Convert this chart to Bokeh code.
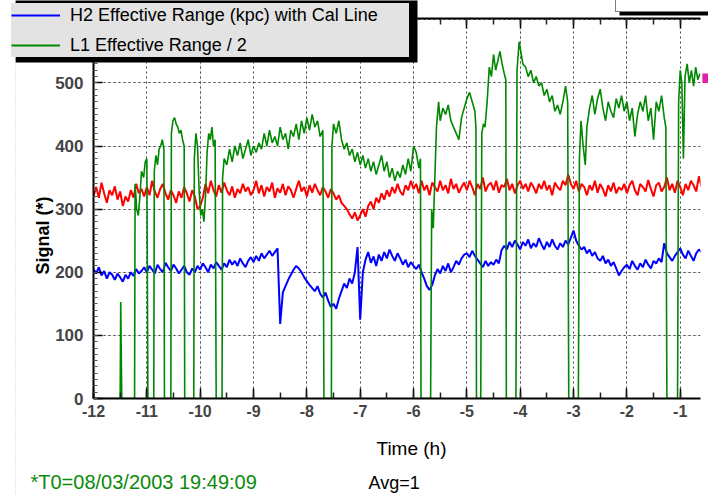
import numpy as np
from bokeh.plotting import figure
from bokeh.models import (Range1d, LinearAxis, FixedTicker, Legend, LegendItem,
                          Label, Grid, Span)
from bokeh.embed import file_html
from bokeh.resources import INLINE

# ---------------- data ----------------
T_START = -12.0
T_STEP = 0.05

RED_V = [
    320, 335, 318, 342, 325, 310, 330, 322, 336, 315, 328, 305, 320, 312, 330, 318, 340, 325, 332, 320,
    335, 322, 345, 328, 318, 332, 340, 325, 315, 330, 322, 310, 328, 318, 335, 325, 312, 330, 320, 300,
    305, 318, 340, 325, 345, 330, 320, 338, 326, 342, 330, 322, 336, 318, 332, 325, 340, 328, 335, 322,
    330, 345, 325, 338, 320, 335, 328, 342, 318, 333, 326, 340, 322, 336, 330, 318, 332, 345, 328, 335,
    320, 338, 326, 340, 330, 322, 335, 328, 318, 332, 325, 315, 322, 310, 305, 300, 292, 285, 295, 282,
    290, 300, 288, 305, 312, 300, 318, 310, 325, 315, 330, 320, 335, 325, 340, 328, 322, 338, 330, 345,
    332, 340, 325, 345, 330, 338, 322, 342, 335, 328, 345, 330, 338, 325, 348, 332, 340, 326, 335, 342,
    330, 345, 335, 322, 340, 332, 350, 328, 338, 342, 330, 345, 326, 338, 335, 348, 330, 340, 325, 338,
    345, 332, 340, 328, 342, 335, 325, 340, 332, 345, 330, 338, 322, 342, 335, 330, 345, 338, 355, 340,
    332, 345, 328, 340, 335, 322, 338, 330, 345, 326, 340, 332, 320, 338, 328, 342, 325, 335, 330, 340,
    325, 338, 345, 330, 322, 340, 335, 328, 346, 332, 320, 338, 342, 328, 335, 350, 330, 340, 326, 345,
    335, 322, 340, 330, 345, 338, 328, 352, 335,
]

BLUE_V = [
    205, 198, 208, 195, 202, 190, 200, 196, 188, 198, 192, 185, 196, 190, 200, 194, 205, 198, 202, 208,
    200, 210, 204, 198, 212, 205, 200, 215, 208, 202, 212, 206, 198, 204, 210, 200, 196, 206, 200, 210,
    204, 214, 208, 200, 212, 206, 216, 210, 204, 214, 208, 220, 212, 218, 210, 222, 214, 208, 218, 224,
    216, 226, 218, 230, 222, 228, 234, 226, 232, 238, 118, 168, 178, 188, 196, 204, 210, 206, 200, 192,
    186, 180, 175, 170, 178, 166, 160, 168, 155, 145, 150, 142, 158, 170, 182, 175, 190, 182, 200, 240,
    125, 200, 220, 232, 215, 225, 210, 228, 218, 232, 222, 236, 226, 218, 230, 222, 212, 220, 208, 216,
    210, 205, 212, 200, 190, 178, 172, 180, 195, 205, 198, 210, 202, 214, 200, 208, 218, 212, 222, 228,
    230, 224, 234, 226, 220, 214, 208, 218, 210, 216, 212, 220, 214, 235, 242, 236, 248, 240, 250, 244,
    236, 248, 242, 252, 238, 246, 240, 254, 244, 236, 248, 240, 252, 242, 236, 246, 240, 250, 244, 255,
    266, 250, 242, 236, 240, 230, 236, 226, 232, 222, 218, 226, 214, 220, 210, 216, 206, 195, 202, 208,
    212, 205, 218, 210, 204, 214, 208, 220, 212, 206, 218, 214, 222, 216, 246, 230, 224, 218, 226, 232,
    238, 228, 222, 234, 226, 218, 230, 236, 232,
]

GREEN_T = [
    -12.00, -11.50, -11.49, -11.47, -11.23,
    -11.22, -11.19, -11.16, -11.13, -11.10, -11.06, -11.03, -11.00, -10.98,
    -10.87, -10.86, -10.83, -10.80, -10.77, -10.74, -10.71, -10.68, -10.67,
    -10.55, -10.54, -10.51, -10.48, -10.45, -10.42, -10.39, -10.36, -10.33, -10.30, -10.29,
    -10.12, -10.11, -10.08, -10.05, -10.02, -9.99, -9.96, -9.93, -9.90, -9.87, -9.84, -9.81, -9.78, -9.75, -9.72, -9.70,
    -9.59, -9.58, -9.55, -9.50, -9.45, -9.40, -9.35, -9.30, -9.25, -9.20, -9.15, -9.10, -9.05, -9.00,
    -8.95, -8.90, -8.85, -8.80, -8.75, -8.70, -8.65, -8.60, -8.55, -8.50, -8.45, -8.40, -8.35, -8.30,
    -8.25, -8.20, -8.15, -8.10, -8.05, -8.00, -7.95, -7.90, -7.85, -7.80, -7.75, -7.70, -7.68,
    -7.54, -7.53, -7.50, -7.45, -7.40, -7.35, -7.30, -7.25, -7.20, -7.15, -7.10, -7.05, -7.00,
    -6.95, -6.90, -6.85, -6.80, -6.75, -6.70, -6.65, -6.60, -6.55, -6.50, -6.45, -6.40, -6.35, -6.30,
    -6.25, -6.20, -6.15, -6.10, -6.05, -6.00, -5.95, -5.90, -5.87, -5.86,
    -5.68, -5.66, -5.63, -5.60, -5.57, -5.53, -5.50, -5.45, -5.40, -5.35, -5.30, -5.25, -5.20, -5.15,
    -5.10, -5.05, -5.00, -4.95, -4.90, -4.85, -4.83, -4.82,
    -4.74, -4.72, -4.69, -4.66, -4.62, -4.58, -4.54, -4.50, -4.46, -4.42, -4.38, -4.34, -4.30, -4.27, -4.26,
    -4.08, -4.06, -4.02, -3.98, -3.95, -3.90, -3.85, -3.80, -3.75, -3.70, -3.65, -3.60, -3.55, -3.50,
    -3.45, -3.40, -3.35, -3.30, -3.25, -3.20, -3.15, -3.11, -3.09,
    -2.91, -2.89, -2.86, -2.82, -2.78, -2.75, -2.70, -2.65, -2.60, -2.55, -2.50, -2.45, -2.40, -2.35,
    -2.30, -2.25, -2.20, -2.15, -2.10, -2.05, -2.00, -1.95, -1.90, -1.85, -1.80, -1.75, -1.70, -1.65,
    -1.60, -1.55, -1.50, -1.45, -1.40, -1.35, -1.30, -1.27, -1.25,
    -1.05, -1.03, -1.00, -0.97, -0.94, -0.91, -0.87, -0.83, -0.79, -0.75, -0.71, -0.67, -0.63,
]

GREEN_V = [
    0, 0, 153, 0, 0,
    340, 300, 290, 320, 360, 350, 375, 380, 0,
    0, 360, 385, 370, 395, 400, 410, 395, 0,
    0, 420, 440, 445, 435, 430, 420, 425, 410, 400, 0,
    0, 380, 420, 400, 330, 290, 300, 280, 320, 390, 420, 410, 430, 400, 410, 0,
    0, 350, 380, 370, 395, 375, 400, 385, 405, 380, 395, 410, 385, 400,
    390, 405, 395, 420, 400, 425, 405, 415, 400, 430, 410, 420, 395, 425,
    415, 435, 410, 440, 420, 445, 425, 450, 430, 440, 415, 425, 0,
    0, 400, 435, 420, 440, 410, 395, 405, 385, 395, 375, 390, 370,
    385, 365, 380, 360, 375, 355, 370, 385, 360, 375, 350, 365, 345, 360,
    350, 370, 355, 380, 360, 400, 390, 365, 380, 0,
    0, 300, 270, 350, 430, 470, 440, 460, 450, 465, 440, 430, 420, 410,
    445, 460, 475, 485, 470, 455, 430, 0,
    0, 420, 435, 430, 470, 525, 510, 545, 520, 535, 550, 530, 515, 505, 0,
    0, 520, 565, 545, 530, 525, 510, 520, 500, 510, 495, 500, 480, 490,
    470, 480, 455, 465, 450, 470, 495, 470, 0,
    0, 380, 440, 400, 370, 430, 460, 480, 450, 475, 490, 460, 440, 470,
    455, 445, 475, 460, 480, 455, 470, 440, 460, 415, 450, 470, 455, 480,
    440, 460, 410, 470, 455, 480, 445, 430, 0,
    0, 470, 520, 500, 380, 510, 530, 500, 520, 495, 525, 505, 515,
]

X_TICKS = list(range(-12, 0))
X_MINOR = [-12 + 0.5 * k for k in range(25)]
Y_TICKS = [0, 100, 200, 300, 400, 500, 600]
Y_MINOR = list(range(0, 610, 10))
LEGEND_LABELS = ["H2 Effective Range (kpc) with Cal Line", "L1 Effective Range / 2"]
X_TITLE = "Time (h)"
Y_TITLE = "Signal (*)"
FOOT_LEFT = "*T0=08/03/2003 19:49:09"
FOOT_RIGHT = "Avg=1"

RED_C, BLUE_C, GREEN_C = "#ff0000", "#0000ff", "#008800"

red_t = T_START + T_STEP * np.arange(len(RED_V))
blue_t = T_START + T_STEP * np.arange(len(BLUE_V))

FONT = "Liberation Sans"
W, H = 708, 494

# ---------------- main plot ----------------
p = figure(width=W, height=H, x_range=Range1d(-12, -0.62), y_range=Range1d(0, 602),
           output_backend="svg", toolbar_location=None,
           x_axis_location=None, y_axis_location=None,
           min_border_left=93, min_border_right=8, min_border_top=18, min_border_bottom=96)
p.outline_line_color = None
p.background_fill_color = "white"
p.border_fill_color = "white"

xt = FixedTicker(ticks=X_TICKS, minor_ticks=X_MINOR)
yt = FixedTicker(ticks=Y_TICKS, minor_ticks=Y_MINOR)

p.add_layout(Grid(dimension=0, ticker=xt, grid_line_color="#444444", grid_line_dash="2 3",
                  grid_line_width=1))
p.add_layout(Grid(dimension=1, ticker=yt, grid_line_color="#444444", grid_line_dash="2 3",
                  grid_line_width=1))

p.line(red_t, RED_V, line_color=RED_C, line_width=2)
p.line(blue_t, BLUE_V, line_color=BLUE_C, line_width=2)
p.line(GREEN_T, GREEN_V, line_color=GREEN_C, line_width=1.6)

x_tick_style = dict(axis_line_width=2, axis_line_color="black",
                    major_tick_line_color="black", minor_tick_line_color="#222222",
                    major_tick_line_width=1.5, minor_tick_line_width=1.5,
                    major_tick_in=10, major_tick_out=0, minor_tick_in=6, minor_tick_out=0)

xb = LinearAxis(ticker=xt, major_label_overrides={t: str(t) for t in X_TICKS},
                major_label_text_font=FONT, major_label_text_font_style="bold",
                major_label_text_font_size="16px", major_label_standoff=6, **x_tick_style)
p.add_layout(xb, "below")

yl = LinearAxis(ticker=yt, axis_line_width=2, axis_line_color="black",
                major_tick_line_color="black", minor_tick_line_color="#555555",
                major_tick_line_width=1.5, minor_tick_line_width=1,
                major_tick_in=9, major_tick_out=0, minor_tick_in=4, minor_tick_out=0,
                major_label_text_font=FONT, major_label_text_font_style="bold",
                major_label_text_font_size="17px", major_label_standoff=10)
p.add_layout(yl, "left")

xtop = LinearAxis(ticker=xt, major_label_overrides={t: "" for t in X_TICKS},
                  major_label_standoff=0, **x_tick_style)
p.add_layout(xtop, "above")

# ---------------- overlay (titles, legend boxes and footer, over the whole page) ----------------
q = figure(width=W, height=H, x_range=Range1d(0, W), y_range=Range1d(0, H),
           output_backend="svg", toolbar_location=None,
           x_axis_location=None, y_axis_location=None, min_border=0,
           styles={"position": "absolute", "top": "0px", "left": "0px"})
q.outline_line_color = None
q.background_fill_alpha = 0
q.border_fill_alpha = 0
q.xgrid.visible = False
q.ygrid.visible = False

q.add_layout(Span(location=15, dimension="height", line_color="#cfcfcf", line_dash="1 2",
                  line_width=1))

# drop shadows of the two boxes (screen-pixel frame of the overlay)
q.quad(left=[15, 619], right=[417, 730], bottom=[H - 62, H - 15], top=[H + 6, H + 6],
       fill_color="black", line_color=None)

lb = q.line([-50], [-50], line_color=BLUE_C, line_width=2)
lg = q.line([-50], [-50], line_color=GREEN_C, line_width=2)
ld = q.line([-50], [-50], line_alpha=0)

q.add_layout(Legend(items=[LegendItem(label=LEGEND_LABELS[0], renderers=[lb]),
                           LegendItem(label=LEGEND_LABELS[1], renderers=[lg])],
                    location=(11, H - 57), background_fill_color="#e3e3e3",
                    background_fill_alpha=1, border_line_color=None, padding=2, spacing=6,
                    margin=0, glyph_width=49, glyph_height=24, label_height=24,
                    label_standoff=10, label_width=339, label_text_font=FONT,
                    label_text_font_size="18px", label_text_color="black"))

q.add_layout(Legend(items=[LegendItem(label=" ", renderers=[ld])],
                    location=(615, H - 12), background_fill_color="white",
                    background_fill_alpha=1, border_line_color="black", border_line_width=1,
                    padding=1, spacing=0, margin=0, glyph_width=10, glyph_height=20,
                    label_height=20, label_standoff=0, label_width=95,
                    label_text_font_size="8px"))

q.add_layout(Label(x=676, y=H - 5, x_units="screen", y_units="screen", text="\u25ac",
                   text_color=BLUE_C, text_font="DejaVu Sans", text_font_size="10px",
                   text_align="center", text_baseline="middle"))
q.add_layout(Label(x=705, y=H - 78, x_units="screen", y_units="screen", text="\u2588",
                   text_color="#e020b0", text_font="DejaVu Sans", text_font_size="8px",
                   text_align="center", text_baseline="middle"))

q.add_layout(Label(x=411, y=H - 448, x_units="screen", y_units="screen", text=X_TITLE,
                   text_color="black", text_font=FONT, text_font_size="19px",
                   text_align="center", text_baseline="middle"))
q.add_layout(Label(x=42, y=H - 235, x_units="screen", y_units="screen", text=Y_TITLE,
                   text_color="black", text_font=FONT, text_font_size="18px",
                   text_font_style="bold", angle=90, angle_units="deg",
                   text_align="center", text_baseline="middle"))

q.add_layout(Label(x=30, y=H - 481, x_units="screen", y_units="screen", text=FOOT_LEFT,
                   text_color="#0b8a0b", text_font=FONT, text_font_size="20px",
                   text_align="left", text_baseline="middle"))
q.add_layout(Label(x=368, y=H - 482, x_units="screen", y_units="screen", text=FOOT_RIGHT,
                   text_color="black", text_font=FONT, text_font_size="18px",
                   text_align="left", text_baseline="middle"))

open("out.html", "w").write(file_html([p, q], INLINE))
